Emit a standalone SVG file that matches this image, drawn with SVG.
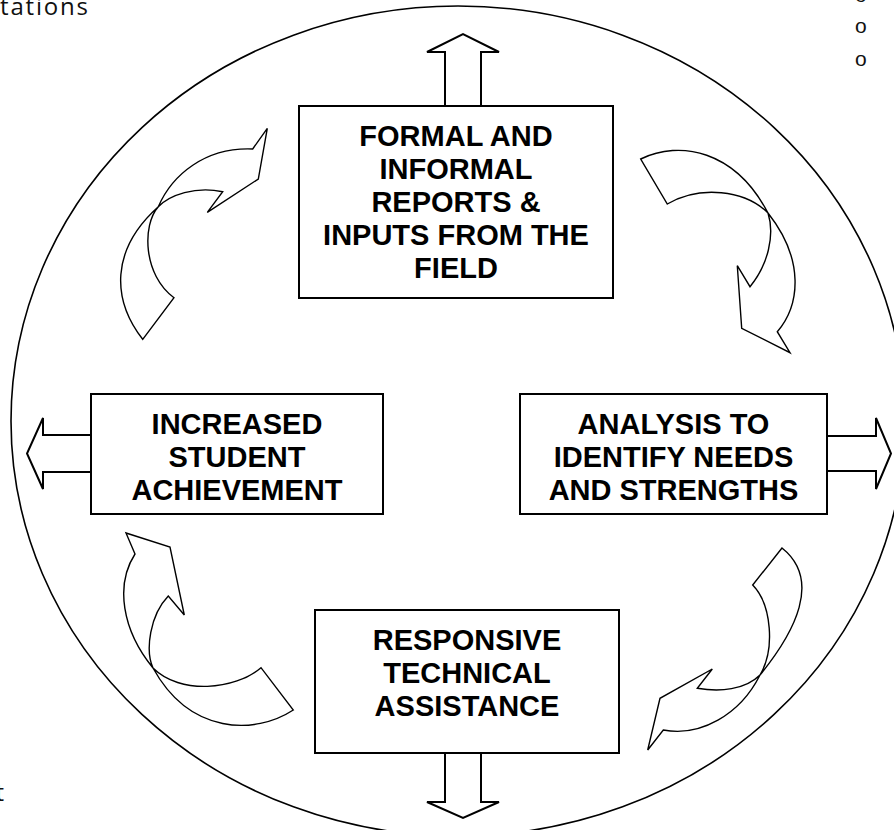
<svg xmlns="http://www.w3.org/2000/svg" width="894" height="830" viewBox="0 0 894 830">
<style>
.box{fill:#fff;stroke:#000;stroke-width:2}
.lbl{font-family:"Liberation Sans",Arial,sans-serif;font-weight:bold;font-size:29px;text-anchor:middle;fill:#000}
.arr{fill:#fff;stroke:#000;stroke-width:2;stroke-linejoin:miter}
.carr{fill:#fff;stroke:#000;stroke-width:1.4;stroke-linejoin:miter}
.ring{fill:none;stroke:#000;stroke-width:1.6}
.side{font-family:"Open Sans","DejaVu Sans",sans-serif;font-size:24px;fill:#111}
.bul{font-family:"Liberation Sans",Arial,sans-serif;font-size:21px;fill:#111}
</style>
<rect width="894" height="830" fill="#fff"/>
<text class="side" x="0" y="15" textLength="88" lengthAdjust="spacing">tations</text>
<text class="side" x="4" y="801" text-anchor="end">t</text>
<g id="bullets">
<text class="bul" x="855" y="2">o</text>
<text class="bul" x="855" y="33">o</text>
<text class="bul" x="855" y="66">o</text>
</g>
<ellipse class="ring" cx="458" cy="421" rx="447" ry="415"/>
<g id="connectors">
<polygon class="arr" points="445,106 445,52 427,52 463,34 499,52 481,52 481,106"/>
<polygon class="arr" points="91,435 43,435 43,418 27,453.5 43,489 43,472 91,472"/>
<polygon class="arr" points="827,436 876,436 876,418 891,453.5 876,489 876,471 827,471"/>
<polygon class="arr" points="445,753 445,802 427,802 463,818 499,802 481,802 481,753"/>
<path id="curve-tl" class="carr" d="M142.7,339.3 C112,300 110,250 158.3,206.7 C172,175 205,147 252.7,149 L267.3,128.3 L258.3,179 L207.3,212.3 L222.7,191.7 C195,186 170,195 158.3,206.7 C142,225 143,275 174,297.7 Z"/>
<path id="curve-tr" class="carr" d="M640.7,159 C680,140 735,150 768,213 C775,235 768,265 750,286.7 L737.3,265.7 L741.7,328.3 L790,352.7 L777.3,331.7 C800,305 805,260 768,213 C745,190 700,185 667.3,204 Z"/>
<path id="curve-br" class="carr" d="M782,548 L752.7,585 C772,605 775,650 760,675 C745,690 720,692 697.3,688.3 L712.3,669 L660,698.3 L647.7,750 L663.3,730 C700,737 740,715 760,675 C795,632 822,580 782,548 Z"/>
<path id="curve-bl" class="carr" d="M135,554 L126,533 L170,547 L184.3,615 L168.3,596 C150,615 145,650 153,668 C180,695 235,690 261,667.7 L293.3,710 C255,735 190,735 153,668 C122,630 115,585 135,554 Z"/>
</g>
<g id="node-reports">
<rect class="box" x="299" y="106" width="314" height="192"/>
<text class="lbl" x="456" y="146">FORMAL AND</text>
<text class="lbl" x="456" y="179">INFORMAL</text>
<text class="lbl" x="456" y="212">REPORTS &amp;</text>
<text class="lbl" x="456" y="245">INPUTS FROM THE</text>
<text class="lbl" x="456" y="278">FIELD</text>
</g>
<g id="node-achievement">
<rect class="box" x="91" y="394" width="292" height="120"/>
<text class="lbl" x="237" y="434">INCREASED</text>
<text class="lbl" x="237" y="467">STUDENT</text>
<text class="lbl" x="237" y="500">ACHIEVEMENT</text>
</g>
<g id="node-analysis">
<rect class="box" x="520" y="394" width="307" height="120"/>
<text class="lbl" x="673.5" y="434">ANALYSIS TO</text>
<text class="lbl" x="673.5" y="467">IDENTIFY NEEDS</text>
<text class="lbl" x="673.5" y="500">AND STRENGTHS</text>
</g>
<g id="node-assistance">
<rect class="box" x="315" y="610" width="304" height="143"/>
<text class="lbl" x="467" y="650">RESPONSIVE</text>
<text class="lbl" x="467" y="683">TECHNICAL</text>
<text class="lbl" x="467" y="716">ASSISTANCE</text>
</g>
</svg>
